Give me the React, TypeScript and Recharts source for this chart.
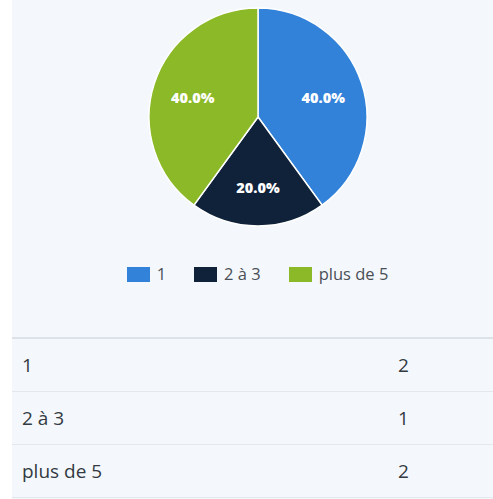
import React from "react";
import { PieChart, Pie, Cell } from "recharts";

const categories = ["1", "2 à 3", "plus de 5"];
const counts = [2, 1, 2];
const colors = ["#3282da", "#0f223a", "#8bb927"];

const total = counts.reduce((a, b) => a + b, 0);
const data = categories.map((name, i) => ({ name, value: counts[i] }));

const RAD = Math.PI / 180;
const renderLabel = (props: any) => {
  const { cx, cy, midAngle, outerRadius, value } = props;
  const r = outerRadius * 0.63;
  const x = cx + r * Math.cos(-midAngle * RAD);
  const y = cy + r * Math.sin(-midAngle * RAD) + 2;
  return (
    <text
      x={x}
      y={y}
      fill="#ffffff"
      textAnchor="middle"
      dominantBaseline="central"
      fontFamily="'Open Sans', sans-serif"
      fontWeight={800}
      fontSize={14.5}
    >
      {((value / total) * 100).toFixed(1) + "%"}
    </text>
  );
};

export default function App() {
  return (
    <div
      style={{
        position: "absolute",
        left: 12,
        top: 0,
        width: 481,
        height: 499,
        background: "#f4f8fc",
        fontFamily: "'Open Sans', sans-serif",
        overflow: "hidden",
      }}
    >
      <div style={{ position: "absolute", left: 0, top: 0 }}>
        <PieChart width={481} height={240} margin={{ top: 0, right: 0, bottom: 0, left: 0 }}>
          <Pie
            data={data}
            dataKey="value"
            nameKey="name"
            cx={246}
            cy={117}
            outerRadius={109}
            startAngle={90}
            endAngle={-270}
            stroke="#ffffff"
            strokeWidth={1.5}
            label={renderLabel}
            labelLine={false}
            isAnimationActive={false}
          >
            {data.map((d, i) => (
              <Cell key={d.name} fill={colors[i]} />
            ))}
          </Pie>
        </PieChart>
      </div>
      <div
        style={{
          position: "absolute",
          top: 265,
          left: 0,
          width: 481,
          display: "flex",
          justifyContent: "center",
          alignItems: "center",
          paddingLeft: 10,
          boxSizing: "border-box",
        }}
      >
        {categories.map((c, i) => (
          <div key={c} style={{ display: "flex", alignItems: "center", marginRight: i < categories.length - 1 ? 28 : 0 }}>
            <div style={{ width: 23, height: 15, background: colors[i], marginRight: 7 }} />
            <span style={{ fontSize: 16.5, color: "#4a4f57", lineHeight: "18px" }}>{c}</span>
          </div>
        ))}
      </div>
      <div style={{ position: "absolute", top: 337, left: 0, width: 481, height: 2, background: "#dde2e8" }} />
      {categories.map((c, i) => (
        <div
          key={c}
          style={{
            position: "absolute",
            top: 339 + i * 53,
            left: 0,
            width: 481,
            height: 52,
          }}
        >
          <span style={{ position: "absolute", left: 10, fontSize: 19, color: "#333a42", lineHeight: "24px", top: 13.5 }}>{c}</span>
          <span style={{ position: "absolute", left: 386, fontSize: 19, color: "#333a42", lineHeight: "24px", top: 13.5 }}>{counts[i]}</span>
          <div style={{ position: "absolute", left: 0, bottom: -1, width: 481, height: 1, background: "#e3e8ee" }} />
        </div>
      ))}
    </div>
  );
}
